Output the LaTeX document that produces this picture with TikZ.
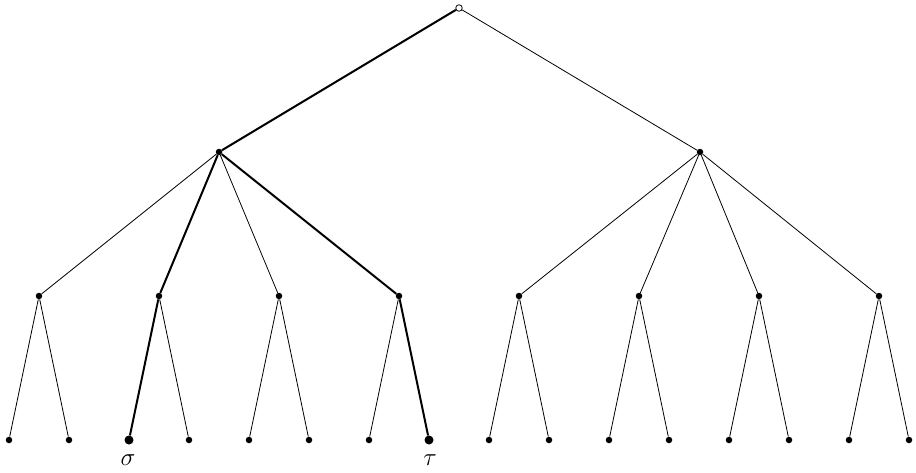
\documentclass[tikz,border=0pt]{standalone}
\usepackage{fix-cm}
\begin{document}
\begin{tikzpicture}[x=1pt,y=-1pt,
  edge/.style={line width=0.8pt},
  bedge/.style={line width=2pt},
  dotn/.style={circle,fill=black,inner sep=0pt,minimum size=6.5pt},
  bdot/.style={circle,fill=black,inner sep=0pt,minimum size=9pt},
  rootn/.style={circle,draw=black,fill=white,line width=0.8pt,inner sep=0pt,minimum size=6.5pt},
  lab/.style={inner sep=0pt,font=\fontsize{25}{30}\selectfont}]
\useasboundingbox (0,0) rectangle (916,472);
\node[rootn] (r) at (459,8) {};
\node[dotn] (a) at (219,152) {};
\node[dotn] (b) at (700,152) {};
\foreach \i [evaluate=\i as \x using 39+120*(\i-1)] in {1,...,8} {
  \node[dotn] (m\i) at (\x,296) {};
}
\foreach \j [evaluate=\j as \x using 9+60*(\j-1)] in {1,...,16} {
  \ifnum\j=3 \node[bdot] (l\j) at (\x,440) {};
  \else\ifnum\j=8 \node[bdot] (l\j) at (\x,440) {};
  \else \node[dotn] (l\j) at (\x,440) {};
  \fi\fi
}
% edges
\draw[bedge] (r) -- (a);
\draw[edge] (r) -- (b);
\draw[edge] (a) -- (m1);
\draw[bedge] (a) -- (m2);
\draw[edge] (a) -- (m3);
\draw[bedge] (a) -- (m4);
\draw[edge] (b) -- (m5);
\draw[edge] (b) -- (m6);
\draw[edge] (b) -- (m7);
\draw[edge] (b) -- (m8);
\draw[edge] (m1) -- (l1); \draw[edge] (m1) -- (l2);
\draw[bedge] (m2) -- (l3); \draw[edge] (m2) -- (l4);
\draw[edge] (m3) -- (l5); \draw[edge] (m3) -- (l6);
\draw[edge] (m4) -- (l7); \draw[bedge] (m4) -- (l8);
\draw[edge] (m5) -- (l9); \draw[edge] (m5) -- (l10);
\draw[edge] (m6) -- (l11); \draw[edge] (m6) -- (l12);
\draw[edge] (m7) -- (l13); \draw[edge] (m7) -- (l14);
\draw[edge] (m8) -- (l15); \draw[edge] (m8) -- (l16);
\node[lab] (sig) at (128,460) {$\sigma$};
\node[lab] (tau) at (430,460) {$\tau$};
\end{tikzpicture}
\end{document}
